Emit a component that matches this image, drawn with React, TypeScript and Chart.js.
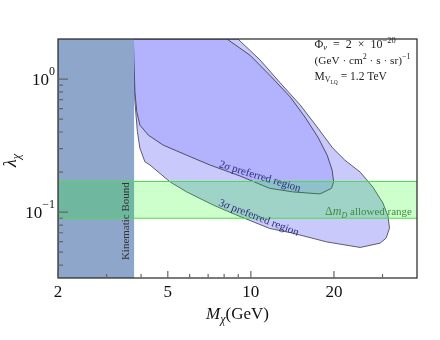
import React, { useEffect, useRef } from 'react';
import { Chart, registerables } from 'chart.js';

Chart.register(...registerables);

// ---- axis ranges and ticks ----
const xRange = [2, 40];
const yRange = [0.032, 2];
const xMajorTicks = [2, 5, 10, 20];
const xMajorLabels = ['2', '5', '10', '20'];
const xMinorTicks = [3, 4, 6, 7, 8, 9, 30];
const yMajorTicks = [1, 0.1];
const yMajorLabels = [['10', '0'], ['10', '−1']];
const yMinorTicks = [0.9, 0.8, 0.7, 0.6, 0.5, 0.4, 0.3, 0.2, 0.09, 0.08, 0.07, 0.06, 0.05, 0.04];

// ---- 3 sigma preferred region (outer) ----
const outerUpperX = [3.75, 8.98, 10.8, 12.7, 15.1, 17.5, 19.8, 21.9, 24.9, 27.7, 30.1, 31.4, 31.8];
const outerUpperY = [2, 2, 1.39, 0.949, 0.638, 0.428, 0.303, 0.246, 0.2, 0.154, 0.117, 0.0933, 0.0758];
const outerLowerX = [3.75, 3.8, 3.88, 3.96, 4.13, 4.31, 5.09, 5.85, 7.31, 8.88, 11.7, 14.2, 18.8, 24.9, 29.4, 30.9, 31.8];
const outerLowerY = [2, 0.675, 0.402, 0.303, 0.239, 0.226, 0.169, 0.142, 0.113, 0.095, 0.0754, 0.0695, 0.0598, 0.0543, 0.0585, 0.0637, 0.0758];

// ---- 2 sigma preferred region (inner) ----
const innerUpperX = [3.75, 8.19, 9.93, 11.7, 13.9, 15.7, 17.5, 18.9, 19.7, 19.95];
const innerUpperY = [2, 2, 1.51, 1.07, 0.732, 0.518, 0.366, 0.268, 0.207, 0.169];
const innerLowerX = [3.75, 3.8, 3.86, 3.96, 4.25, 4.81, 5.85, 7.11, 9.13, 11.7, 14.2, 17.8, 19.6, 19.95];
const innerLowerY = [2, 0.803, 0.568, 0.451, 0.379, 0.319, 0.268, 0.226, 0.187, 0.151, 0.142, 0.137, 0.151, 0.169];

// ---- kinematic bound and Delta m_D band ----
const kinematicBound = 3.75;
const bandLow = 0.09;
const bandHigh = 0.17;

const SERIF = "'Liberation Serif', 'DejaVu Serif', serif";
const EN = '\u2002';

type Run = { t: string; size: number; dy?: number; it?: boolean };

const zip = (xs: number[], ys: number[]) => xs.map((x, i) => ({ x, y: ys[i] }));

function runsWidth(ctx: CanvasRenderingContext2D, runs: Run[]) {
  return runs.map((r) => {
    ctx.font = `${r.it ? 'italic ' : ''}${r.size}px ${SERIF}`;
    return ctx.measureText(r.t).width;
  });
}

function drawRuns(
  ctx: CanvasRenderingContext2D,
  runs: Run[],
  x: number,
  y: number,
  align: 'left' | 'center' | 'right',
  color: string
) {
  const ws = runsWidth(ctx, runs);
  const total = ws.reduce((a, b) => a + b, 0);
  let cx = align === 'left' ? x : align === 'center' ? x - total / 2 : x - total;
  ctx.fillStyle = color;
  ctx.textAlign = 'left';
  ctx.textBaseline = 'alphabetic';
  runs.forEach((r, i) => {
    ctx.font = `${r.it ? 'italic ' : ''}${r.size}px ${SERIF}`;
    ctx.fillText(r.t, cx, y + (r.dy || 0));
    cx += ws[i];
  });
}

function drawRotated(
  ctx: CanvasRenderingContext2D,
  runs: Run[],
  px: number,
  py: number,
  deg: number,
  color: string,
  size: number
) {
  ctx.save();
  ctx.translate(px, py);
  ctx.rotate((deg * Math.PI) / 180);
  drawRuns(ctx, runs, 0, size * 0.33, 'center', color);
  ctx.restore();
}

const decorPlugin = {
  id: 'decor',
  afterDatasetsDraw(chart: any) {
    const { ctx, chartArea: a } = chart;
    const xs = chart.scales.x;
    const ys = chart.scales.y;
    ctx.save();

    // annotations
    drawRotated(
      ctx,
      [
        { t: '2', size: 11 },
        { t: 'σ', size: 11, it: true },
        { t: ' preferred region', size: 11 },
      ],
      xs.getPixelForValue(10.8),
      ys.getPixelForValue(0.187),
      17,
      '#2a2a78',
      11
    );
    drawRotated(
      ctx,
      [
        { t: '3', size: 11 },
        { t: 'σ', size: 11, it: true },
        { t: ' preferred region', size: 11 },
      ],
      xs.getPixelForValue(10.7),
      ys.getPixelForValue(0.0917),
      21,
      '#2a2a78',
      11
    );
    drawRotated(
      ctx,
      [{ t: 'Kinematic Bound', size: 11 }],
      xs.getPixelForValue(3.5),
      ys.getPixelForValue(0.0856),
      -90,
      '#333333',
      11
    );
    drawRuns(
      ctx,
      [
        { t: 'Δ', size: 12 },
        { t: 'm', size: 12, it: true },
        { t: 'D', size: 8, it: true, dy: 3 },
        { t: ' allowed range', size: 11 },
      ],
      a.right - 5,
      ys.getPixelForValue(0.1) + 3,
      'right',
      '#3c8c3c'
    );

    // info block
    const ix = xs.getPixelForValue(17);
    const iy = ys.getPixelForValue(1.83) + 4;
    drawRuns(
      ctx,
      [
        { t: 'Φ', size: 12 },
        { t: 'ν', size: 8.5, it: true, dy: 2 },
        { t: `${EN}=${EN}2${EN}×${EN}10`, size: 12 },
        { t: '−20', size: 8.5, dy: -5 },
      ],
      ix,
      iy,
      'left',
      '#222'
    );
    drawRuns(
      ctx,
      [
        { t: '(GeV · cm', size: 11.3 },
        { t: '2', size: 8, dy: -5 },
        { t: ' · s · sr)', size: 11.3 },
        { t: '−1', size: 8, dy: -5 },
      ],
      ix,
      iy + 16,
      'left',
      '#222'
    );
    drawRuns(
      ctx,
      [
        { t: 'M', size: 11.5 },
        { t: 'V', size: 8, dy: 2 },
        { t: 'LQ', size: 5.5, dy: 4 },
        { t: ' = 1.2 TeV', size: 11.5 },
      ],
      ix,
      iy + 32,
      'left',
      '#222'
    );

    // frame
    ctx.strokeStyle = '#222';
    ctx.lineWidth = 1.2;
    ctx.strokeRect(a.left, a.top, a.right - a.left, a.bottom - a.top);

    // ticks (inward)
    ctx.strokeStyle = '#666';
    ctx.lineWidth = 1.2;
    ctx.beginPath();
    xMajorTicks.forEach((v) => {
      const p = xs.getPixelForValue(v);
      ctx.moveTo(p, a.bottom);
      ctx.lineTo(p, a.bottom - 7);
    });
    xMinorTicks.forEach((v) => {
      const p = xs.getPixelForValue(v);
      ctx.moveTo(p, a.bottom);
      ctx.lineTo(p, a.bottom - 4);
    });
    yMajorTicks.forEach((v) => {
      const p = ys.getPixelForValue(v);
      ctx.moveTo(a.left, p);
      ctx.lineTo(a.left + 10, p);
    });
    yMinorTicks.forEach((v) => {
      const p = ys.getPixelForValue(v);
      ctx.moveTo(a.left, p);
      ctx.lineTo(a.left + 5, p);
    });
    ctx.stroke();

    // tick labels
    xMajorTicks.forEach((v, i) => {
      drawRuns(ctx, [{ t: xMajorLabels[i], size: 17 }], xs.getPixelForValue(v), a.bottom + 19, 'center', '#111');
    });
    yMajorTicks.forEach((v, i) => {
      drawRuns(
        ctx,
        [
          { t: yMajorLabels[i][0], size: 17 },
          { t: yMajorLabels[i][1], size: 12, dy: -10 },
        ],
        a.left - 3,
        ys.getPixelForValue(v) + 6,
        'right',
        '#111'
      );
    });

    // axis titles
    drawRuns(
      ctx,
      [
        { t: 'M', size: 17, it: true },
        { t: 'χ', size: 12, it: true, dy: 4 },
        { t: '(GeV)', size: 17 },
      ],
      (a.left + a.right) / 2,
      a.bottom + 41,
      'center',
      '#111'
    );
    ctx.save();
    ctx.translate(16, (a.top + a.bottom) / 2 + 2);
    ctx.rotate(-Math.PI / 2);
    drawRuns(
      ctx,
      [
        { t: 'λ', size: 18, it: true },
        { t: 'χ', size: 12, it: true, dy: 4 },
      ],
      0,
      0,
      'center',
      '#111'
    );
    ctx.restore();

    ctx.restore();
  },
};

export default function App() {
  const ref = useRef<HTMLCanvasElement | null>(null);

  useEffect(() => {
    document.body.style.margin = '0';
    const canvas = ref.current;
    if (!canvas) return;
    const line = { pointRadius: 0, pointHoverRadius: 0, tension: 0, showLine: true };
    const chart = new Chart(canvas, {
      type: 'scatter',
      data: {
        datasets: [
          // 3 sigma
          { ...line, data: zip(outerUpperX, outerUpperY), borderColor: '#5c5c6c', borderWidth: 1, fill: false, order: 60 },
          { ...line, data: zip(outerLowerX, outerLowerY), borderColor: '#5c5c6c', borderWidth: 1, backgroundColor: '#c9c9fb', fill: '-1', order: 60 },
          // 2 sigma
          { ...line, data: zip(innerUpperX, innerUpperY), borderColor: '#4e4e66', borderWidth: 1, fill: false, order: 50 },
          { ...line, data: zip(innerLowerX, innerLowerY), borderColor: '#4e4e66', borderWidth: 1, backgroundColor: '#b2b2fd', fill: '-1', order: 50 },
          // kinematic bound
          {
            ...line,
            data: [
              { x: xRange[0], y: yRange[1] },
              { x: kinematicBound, y: yRange[1] },
            ],
            borderWidth: 0,
            borderColor: 'rgba(0,0,0,0)',
            backgroundColor: '#8da6c9',
            fill: 'start',
            order: 40,
          },
          {
            ...line,
            data: [
              { x: kinematicBound, y: yRange[0] },
              { x: kinematicBound, y: yRange[1] },
            ],
            borderWidth: 1.5,
            borderColor: '#86a6dc',
            fill: false,
            order: 40,
          },
          // Delta m_D band
          {
            ...line,
            data: [
              { x: xRange[0], y: bandHigh },
              { x: xRange[1], y: bandHigh },
            ],
            borderWidth: 1.2,
            borderColor: '#4ddc4d',
            fill: false,
            order: 30,
          },
          {
            ...line,
            data: [
              { x: xRange[0], y: bandLow },
              { x: xRange[1], y: bandLow },
            ],
            borderWidth: 1.2,
            borderColor: '#4ddc4d',
            backgroundColor: 'rgba(0,255,0,0.2)',
            fill: '-1',
            order: 30,
          },
        ],
      } as any,
      options: {
        animation: false,
        responsive: false,
        devicePixelRatio: 1,
        layout: { padding: { left: 58, top: 39, right: 23, bottom: 62 } },
        plugins: { legend: { display: false }, tooltip: { enabled: false } },
        events: [],
        scales: {
          x: { type: 'logarithmic', min: xRange[0], max: xRange[1], display: false },
          y: { type: 'logarithmic', min: yRange[0], max: yRange[1], display: false },
        },
      } as any,
      plugins: [decorPlugin],
    });
    return () => chart.destroy();
  }, []);

  return <canvas ref={ref} width={440} height={340} style={{ display: 'block', width: 440, height: 340 }} />;
}
